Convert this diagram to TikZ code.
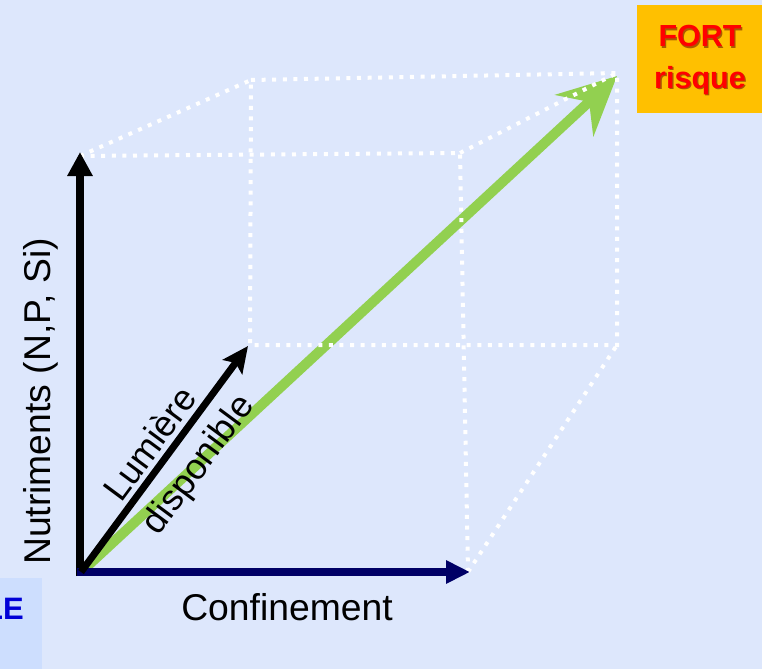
\documentclass[tikz,border=0pt]{standalone}
\usepackage{fontspec}
\setmainfont{Liberation Sans}
\usetikzlibrary{arrows.meta}

\definecolor{bgblue}{RGB}{221,231,252}
\definecolor{cornerblue}{RGB}{205,222,254}
\definecolor{navyaxis}{RGB}{0,0,102}
\definecolor{leafgreen}{RGB}{146,208,80}
\definecolor{riskorange}{RGB}{255,192,0}
\definecolor{riskred}{RGB}{255,0,0}
\definecolor{riskshadow}{RGB}{170,90,0}
\definecolor{labelblue}{RGB}{0,0,215}

\tikzset{
  cubeedge/.style={draw=white, line width=4pt, dash pattern=on 4pt off 6.6pt},
  axislabel/.style={inner sep=0pt, font=\fontsize{37.3}{40}\selectfont},
  diaglabel/.style={inner sep=0pt, font=\fontsize{36}{40}\selectfont, rotate=53.5, anchor=base},
  risktext/.style={inner sep=0pt, anchor=base, font=\bfseries\fontsize{30.5}{34}\selectfont},
}

\begin{document}
\begin{tikzpicture}[x=1pt, y=-1pt]
  \useasboundingbox (0,0) rectangle (762,669);
  \fill[bgblue] (0,0) rectangle (762,669);
  \fill[cornerblue] (0,578) rectangle (42,669);

  % corners of the cube
  \coordinate (O)   at (81,572);
  \coordinate (Ftl) at (80,156);
  \coordinate (Ftr) at (460,153);
  \coordinate (Fbr) at (468,572);
  \coordinate (Btl) at (251,80);
  \coordinate (Btr) at (617,73);
  \coordinate (Bbr) at (617,345);
  \coordinate (Bbl) at (250,345);

  % axis ends
  \coordinate (Ybase) at (80,576);
  \coordinate (Ytip)  at (80,152);
  \coordinate (Xbase) at (77,572);
  \coordinate (Xtip)  at (470,572);
  \coordinate (Ztip)  at (248,346);
  \coordinate (Rtip)  at (617,76);

  % overall risk direction
  \draw[leafgreen, line width=10pt,
        -{Stealth[length=58pt, width=56pt, inset=20pt]}] (O) -- (Rtip);

  % dotted cube
  \draw[cubeedge] (Ftl) -- (Ftr) -- (Fbr);
  \draw[cubeedge] (Btl) -- (Btr) -- (Bbr) -- (Bbl) -- (Btl);
  \draw[cubeedge] (Ftl) -- (Btl);
  \draw[cubeedge] (Ftr) -- (Btr);
  \draw[cubeedge] (Fbr) -- (Bbr);

  % axes
  \draw[black, line width=8pt,
        -{Triangle[length=24pt, width=24pt]}] (Ybase) -- (Ytip);
  \draw[navyaxis, line width=8pt,
        -{Triangle[length=24pt, width=22pt]}] (Xbase) -- (Xtip);
  \draw[black, line width=7pt,
        -{Stealth[length=26pt, width=24pt, inset=5pt]}] (O) -- (Ztip);

  % axis labels
  \node[axislabel, rotate=90, anchor=base] (nutri) at (50,401.5) {Nutriments (N,P, Si)};
  \node[axislabel, anchor=base] (confi) at (287,620) {Confinement};
  \node[diaglabel] (lum)  at (160,451) {Lumière};
  \node[diaglabel] (disp) at (207,471) {disponible};

  % high-risk corner
  \fill[riskorange] (637,5) rectangle (762,113);
  \node[risktext, text=riskshadow] (fortsh) at (701.3,48.3) {FORT};
  \node[risktext, text=riskshadow] (risqsh) at (701.3,89.3) {risque};
  \node[risktext, text=riskred] (fort) at (700,47) {FORT};
  \node[risktext, text=riskred] (risq) at (700,88) {risque};

  % low-risk corner
  \node[inner sep=0pt, anchor=base east, text=labelblue,
        font=\bfseries\fontsize{31}{34}\selectfont] (low) at (24,619) {LE};
\end{tikzpicture}
\end{document}
